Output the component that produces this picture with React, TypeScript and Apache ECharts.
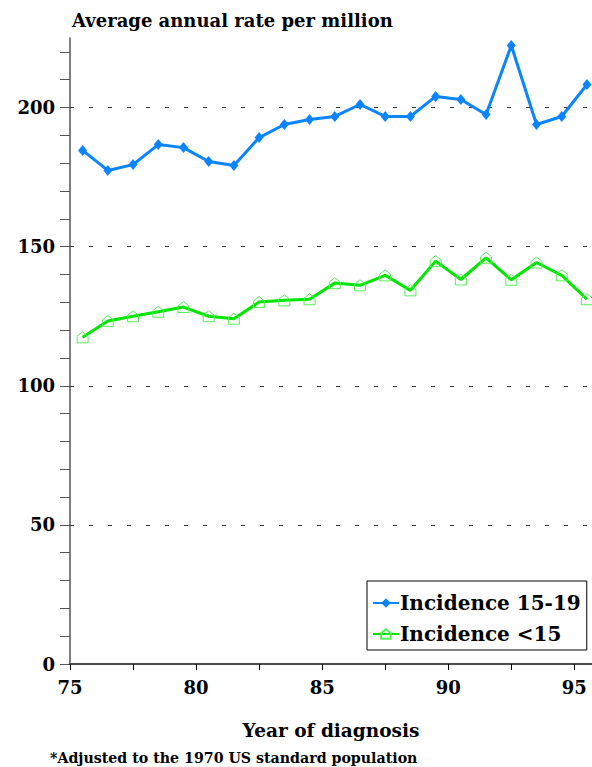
import React, { useEffect, useRef } from 'react';
import * as echarts from 'echarts';

const years = [75.5, 76.5, 77.5, 78.5, 79.5, 80.5, 81.5, 82.5, 83.5, 84.5, 85.5, 86.5, 87.5, 88.5, 89.5, 90.5, 91.5, 92.5, 93.5, 94.5, 95.5];
const incidence1519 = [184.6, 177.4, 179.5, 186.7, 185.6, 180.6, 179.2, 189.2, 193.9, 195.7, 196.8, 201.1, 196.8, 196.8, 204.0, 202.9, 197.5, 222.3, 193.9, 196.8, 208.3];
const incidenceUnder15 = [117.4, 123.3, 125.0, 126.6, 128.3, 125.0, 124.1, 130.1, 130.7, 131.1, 136.9, 136.1, 139.7, 134.3, 144.8, 138.2, 146.0, 138.1, 144.3, 139.7, 131.1];
const xLabelValues = [75, 80, 85, 90, 95];
const xTickValues = [75, 77.5, 80, 82.5, 85, 87.5, 90, 92.5, 95];
const yLabelValues = [0, 50, 100, 150, 200];
const yTickValues = [0, 10, 20, 30, 40, 50, 60, 70, 80, 90, 100, 110, 120, 130, 140, 150, 160, 170, 180, 190, 200, 210, 220];
const gridValues = [50, 100, 150, 200];

const FONT = 'DejaVu Serif';
const HOUSE = 'path://M5,0 L10,4 L10,10 L0,10 L0,4 Z';

export default function App() {
  const ref = useRef<HTMLDivElement>(null);
  useEffect(() => {
    const chart = echarts.init(ref.current!, null, { renderer: 'svg' });
    chart.setOption({
      animation: false,
      backgroundColor: '#fff',
      title: [
        { text: 'Average annual rate per million', left: 67, top: 6, textStyle: { fontFamily: FONT, fontWeight: 'bold', fontSize: 18, color: '#000' } },
        { text: '*Adjusted to the 1970 US standard population', left: 50, top: 750, padding: 0, textStyle: { fontFamily: FONT, fontWeight: 'bold', fontSize: 14.2, lineHeight: 16, color: '#000' } },
      ],
      grid: { left: 70, top: 38, right: 0, bottom: 103 },
      legend: {
        orient: 'vertical',
        left: 367,
        top: 581,
        padding: [12, 6, 6, 5],
        itemGap: 11,
        itemWidth: 26,
        itemHeight: 12,
        borderColor: '#000',
        borderWidth: 1,
        backgroundColor: '#fff',
        textStyle: { fontFamily: FONT, fontWeight: 'bold', fontSize: 20, color: '#000', padding: [0, 0, 0, -4] },
        data: ['Incidence 15-19', 'Incidence <15'],
      },
      xAxis: [
        {
          type: 'value',
          min: 75,
          max: 95.7,
          interval: 2.5,
          name: 'Year of diagnosis',
          nameLocation: 'middle',
          nameGap: 57,
          nameTextStyle: { fontFamily: FONT, fontWeight: 'bold', fontSize: 18.5, color: '#000' },
          axisLine: { show: true, onZero: false, lineStyle: { color: '#000', width: 1.5 } },
          axisTick: { show: true, length: 6, customValues: xTickValues, lineStyle: { color: '#000', width: 1 } },
          axisLabel: { customValues: xLabelValues, margin: 14, fontFamily: FONT, fontWeight: 'bold', fontSize: 18, color: '#000' },
          splitLine: { show: false },
        },
        {
          type: 'value',
          position: 'top',
          min: 75,
          max: 95.7,
          axisLine: { show: true, lineStyle: { color: '#555', width: 1.5 } },
          axisTick: { show: false },
          axisLabel: { show: false },
          splitLine: { show: false },
        },
      ],
      yAxis: {
        type: 'value',
        min: 0,
        max: 225,
        interval: 50,
        axisLine: { show: true, onZero: false, lineStyle: { color: '#555', width: 1.5 } },
        axisTick: { show: true, length: 10, customValues: yTickValues, lineStyle: { color: '#555', width: 1 } },
        axisLabel: { customValues: yLabelValues, margin: 15, fontFamily: FONT, fontWeight: 'bold', fontSize: 18, color: '#000' },
        splitLine: { show: false },
      },
      series: [
        {
          name: 'Incidence 15-19',
          type: 'line',
          data: years.map((y, i) => [y, incidence1519[i]]),
          symbol: 'diamond',
          symbolSize: [9, 11],
          lineStyle: { color: '#0a84ff', width: 3 },
          itemStyle: { color: '#0a84ff' },
          color: '#0a84ff',
          z: 3,
          markLine: {
            silent: true,
            symbol: 'none',
            label: { show: false },
            lineStyle: { color: '#333', width: 1, type: [4, 15] },
            z: 1,
            data: gridValues.map((v) => ({ yAxis: v })),
          },
        },
        {
          name: 'Incidence <15',
          type: 'line',
          data: years.map((y, i) => [y, incidenceUnder15[i]]),
          symbol: HOUSE,
          symbolSize: [11, 11],
          lineStyle: { color: '#00e600', width: 3 },
          itemStyle: { color: 'rgba(255,255,255,0)', borderColor: '#55f055', borderWidth: 1 },
          color: '#00e600',
          z: 3,
        },
      ],
    });
    return () => chart.dispose();
  }, []);
  return <div ref={ref} style={{ position: 'fixed', left: 0, top: 0, width: 592, height: 767 }} />;
}
